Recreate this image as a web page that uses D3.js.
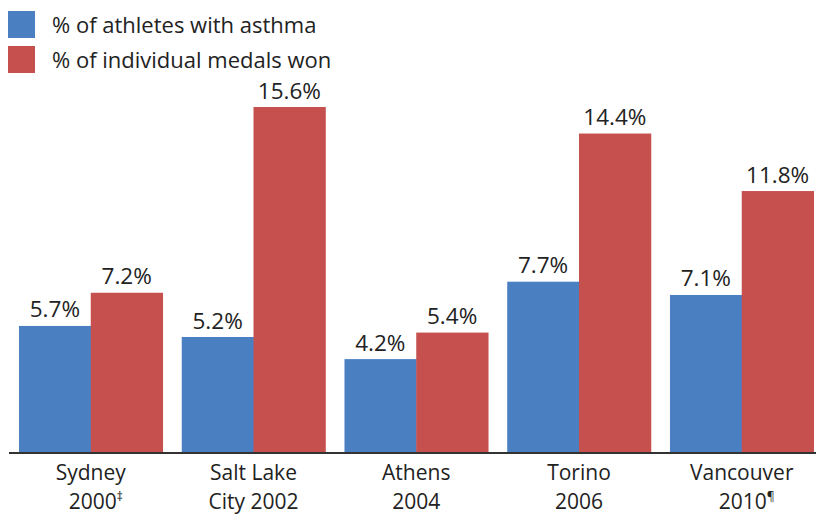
<!DOCTYPE html>
<html>
<head>
<meta charset="utf-8">
<script src="https://cdn.jsdelivr.net/npm/d3@7"></script>
<style>
  body { margin: 0; background: #fff; }
  svg { display: block; font-family: "Open Sans", Lato, sans-serif; }
</style>
</head>
<body>
<svg id="chart" width="816" height="515"></svg>
<script>
const games = ["Sydney 2000", "Salt Lake City 2002", "Athens 2004", "Torino 2006", "Vancouver 2010"];
const labelTop = ["Sydney", "Salt Lake", "Athens", "Torino", "Vancouver"];
const labelBottom = ["2000", "City 2002", "2004", "2006", "2010"];
const footnotes = ["‡", "", "", "", "¶"];
const asthma = [5.7, 5.2, 4.2, 7.7, 7.1];
const medals = [7.2, 15.6, 5.4, 14.4, 11.8];
const seriesNames = ["% of athletes with asthma", "% of individual medals won"];
const colors = ["#4a80c2", "#c6504e"];

const svg = d3.select("#chart");
const baseY = 452;

const x = d3.scaleBand().domain(games).range([19, 813.5]).paddingInner(0.118).paddingOuter(0);
const sub = d3.scaleBand().domain([0, 1]).range([0, x.bandwidth()]);
const y = d3.scaleLinear().domain([0, 15.6]).range([baseY, 107]);

const rows = games.map((g, i) => ({ g, vals: [asthma[i], medals[i]] }));

const groups = svg.append("g").selectAll("g").data(rows).join("g")
  .attr("transform", d => `translate(${x(d.g)},0)`);

groups.selectAll("rect").data(d => d.vals).join("rect")
  .attr("x", (d, j) => sub(j))
  .attr("width", sub.bandwidth() + 0.5)
  .attr("y", d => y(d))
  .attr("height", d => baseY - y(d))
  .attr("fill", (d, j) => colors[j]);

groups.selectAll("text.val").data(d => d.vals).join("text")
  .attr("class", "val")
  .attr("x", (d, j) => sub(j) + sub.bandwidth() / 2)
  .attr("y", d => y(d) - 8.5)
  .attr("text-anchor", "middle")
  .attr("font-size", 22.5)
  .attr("fill", "#222")
  .text(d => d.toFixed(1) + "%");

// baseline
svg.append("line")
  .attr("x1", 9).attr("x2", 816)
  .attr("y1", baseY + 1).attr("y2", baseY + 1)
  .attr("stroke", "#333").attr("stroke-width", 2);

// category labels, one text per line
const cx = d => x(d) + x.bandwidth() / 2;
const labels = svg.append("g").attr("font-size", 21).attr("fill", "#222").attr("text-anchor", "middle");

labels.selectAll("text.top").data(games).join("text")
  .attr("class", "top")
  .attr("x", cx)
  .attr("y", 480)
  .text((d, i) => labelTop[i]);

labels.selectAll("text.bottom").data(games).join("text")
  .attr("class", "bottom")
  .attr("x", (d, i) => cx(d) + (footnotes[i] ? 5 : 0))
  .attr("y", 508.5)
  .each(function(d, i) {
    const t = d3.select(this);
    t.append("tspan").text(labelBottom[i]);
    if (footnotes[i]) t.append("tspan").attr("font-size", 12).attr("dy", -8).text(footnotes[i]);
  });

// legend
const leg = svg.append("g").selectAll("g").data(seriesNames).join("g")
  .attr("transform", (d, i) => `translate(8,${11 + i * 35})`);
leg.append("rect").attr("width", 27).attr("height", 27).attr("fill", (d, i) => colors[i]);
leg.append("text").attr("x", 44).attr("y", 22).attr("font-size", 22).attr("fill", "#222").text(d => d);
</script>
</body>
</html>
